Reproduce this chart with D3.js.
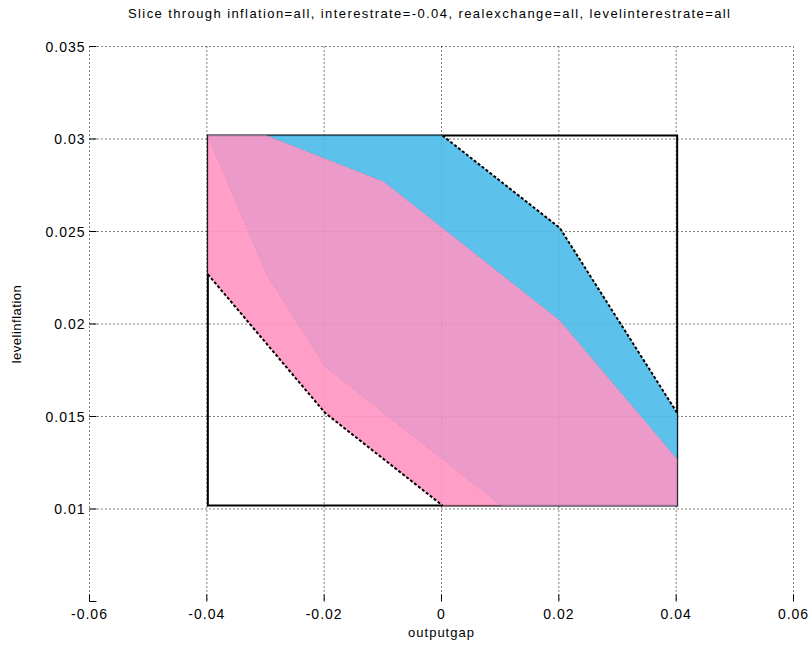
<!DOCTYPE html>
<html>
<head>
<meta charset="utf-8">
<script src="https://cdn.jsdelivr.net/npm/d3@7"></script>
<style>
  body { margin: 0; background: #fff; }
  text { font-family: "Liberation Sans", Arial, sans-serif; fill: #000; }
</style>
</head>
<body>
<script>
// chart values
let xTicks = [-0.06, -0.04, -0.02, 0, 0.02, 0.04, 0.06]
let yTicks = [0.01, 0.015, 0.02, 0.025, 0.03, 0.035]
let xLabels = ['-0.06', '-0.04', '-0.02', '0', '0.02', '0.04', '0.06']
let yLabels = ['0.01', '0.015', '0.02', '0.025', '0.03', '0.035']

// full slice box (outputgap x levelinflation)
let boxX = [-0.04, 0.04]
let boxY = [0.01, 0.03]

// blue region
let blueX = [-0.04, 0, 0.02, 0.04, 0.04, 0.01, -0.02, -0.03]
let blueY = [0.03, 0.03, 0.025, 0.015, 0.01, 0.01, 0.0175, 0.0225]

// pink region
let pinkX = [-0.04, -0.03, -0.01, 0.02, 0.04, 0.04, 0, -0.02, -0.04]
let pinkY = [0.03, 0.03, 0.0275, 0.02, 0.0125, 0.01, 0.01, 0.015, 0.0225]

// outer edges (dashed)
let blueEdgeX = [0, 0.02, 0.04]
let blueEdgeY = [0.03, 0.025, 0.015]
let pinkEdgeX = [-0.04, -0.02, 0]
let pinkEdgeY = [0.0225, 0.015, 0.01]

let titleText = 'Slice through inflation=all, interestrate=-0.04, realexchange=all, levelinterestrate=all'

let width = 811
let height = 648
let tickLen = 7
let patchOffset = [1, -3.5]

const svg = d3.select('body').append('svg').attr('width', width).attr('height', height)

const xScale = d3.scaleLinear().domain([-0.06, 0.06]).range([89.5, 793.5])
const yScale = d3.scaleLinear().domain([0.005, 0.035]).range([601.5, 46.5])

const toPoints = (xs, ys) => xs.map((v, i) => [xScale(v), yScale(ys[i])])
const line = d3.line()

// grid
svg.append('g')
  .selectAll('line')
  .data(xTicks)
  .enter()
  .append('line')
  .attr('x1', (d) => xScale(d)).attr('x2', (d) => xScale(d))
  .attr('y1', yScale(0.035)).attr('y2', yScale(0.005))
  .attr('stroke', '#000').attr('stroke-width', 1).attr('stroke-dasharray', '1,3')

svg.append('g')
  .selectAll('line')
  .data(yTicks)
  .enter()
  .append('line')
  .attr('y1', (d) => yScale(d)).attr('y2', (d) => yScale(d))
  .attr('x1', xScale(-0.06)).attr('x2', xScale(0.06))
  .attr('stroke', '#000').attr('stroke-width', 1).attr('stroke-dasharray', '1,3')

// patches
const patches = svg.append('g').attr('transform', `translate(${patchOffset[0]},${patchOffset[1]})`)

patches.append('rect')
  .attr('x', xScale(boxX[0]))
  .attr('y', yScale(boxY[1]))
  .attr('width', xScale(boxX[1]) - xScale(boxX[0]))
  .attr('height', yScale(boxY[0]) - yScale(boxY[1]))
  .attr('fill', 'none')
  .attr('stroke', '#000')
  .attr('stroke-width', 2)

patches.append('clipPath').attr('id', 'blueClip')
  .append('path').attr('d', line(toPoints(blueX, blueY)) + 'Z')

const fills = patches.append('g').attr('opacity', 0.9)

fills.append('path')
  .attr('d', line(toPoints(blueX, blueY)) + 'Z')
  .attr('fill', '#4BBCEB')

fills.append('path')
  .attr('d', line(toPoints(pinkX, pinkY)) + 'Z')
  .attr('fill', '#FF95C2')

fills.append('path')
  .attr('d', line(toPoints(pinkX, pinkY)) + 'Z')
  .attr('clip-path', 'url(#blueClip)')
  .attr('fill', '#EA90C5')

// faint inner borders where the two regions meet
patches.append('path')
  .attr('d', line(toPoints(pinkX.slice(1, 5), pinkY.slice(1, 5))))
  .attr('fill', 'none').attr('stroke', '#1a5a80').attr('stroke-opacity', 0.35)
  .attr('stroke-width', 1).attr('stroke-dasharray', '1,2')

patches.append('path')
  .attr('d', line(toPoints(blueX.slice(5).concat([blueX[0]]), blueY.slice(5).concat([blueY[0]]))))
  .attr('fill', 'none').attr('stroke', '#803060').attr('stroke-opacity', 0.2)
  .attr('stroke-width', 1).attr('stroke-dasharray', '1,2')

// dashed outer edges
patches.append('path')
  .attr('d', line(toPoints(blueEdgeX, blueEdgeY)))
  .attr('fill', 'none').attr('stroke', '#000').attr('stroke-width', 2).attr('stroke-dasharray', '3,2')

patches.append('path')
  .attr('d', line(toPoints(pinkEdgeX, pinkEdgeY)))
  .attr('fill', 'none').attr('stroke', '#000').attr('stroke-width', 2).attr('stroke-dasharray', '3,2')

// ticks (inward)
svg.append('g')
  .selectAll('line')
  .data(xTicks)
  .enter()
  .append('line')
  .attr('x1', (d) => xScale(d)).attr('x2', (d) => xScale(d))
  .attr('y1', yScale(0.005)).attr('y2', yScale(0.005) - tickLen)
  .attr('stroke', '#000').attr('stroke-width', 1)

svg.append('g')
  .selectAll('line')
  .data([0.005].concat(yTicks))
  .enter()
  .append('line')
  .attr('y1', (d) => yScale(d)).attr('y2', (d) => yScale(d))
  .attr('x1', xScale(-0.06)).attr('x2', xScale(-0.06) + tickLen)
  .attr('stroke', '#000').attr('stroke-width', 1)

// tick labels
svg.append('g')
  .selectAll('text')
  .data(xTicks)
  .enter()
  .append('text')
  .attr('x', (d) => xScale(d))
  .attr('y', yScale(0.005) + 17)
  .attr('text-anchor', 'middle')
  .attr('font-size', 14)
  .attr('letter-spacing', 1)
  .text((d, i) => xLabels[i])

svg.append('g')
  .selectAll('text')
  .data(yTicks)
  .enter()
  .append('text')
  .attr('x', xScale(-0.06) - 4)
  .attr('y', (d) => yScale(d) + 5)
  .attr('text-anchor', 'end')
  .attr('font-size', 14)
  .attr('letter-spacing', 1)
  .text((d, i) => yLabels[i])

// title + axis labels
svg.append('text')
  .attr('x', 429)
  .attr('y', 18)
  .attr('text-anchor', 'middle')
  .attr('font-size', 13)
  .attr('textLength', 602)
  .attr('lengthAdjust', 'spacing')
  .text(titleText)

svg.append('text')
  .attr('x', xScale(0))
  .attr('y', 637)
  .attr('text-anchor', 'middle')
  .attr('font-size', 13)
  .attr('letter-spacing', 1)
  .text('outputgap')

svg.append('text')
  .attr('transform', `translate(21,${yScale(0.02)}) rotate(-90)`)
  .attr('text-anchor', 'middle')
  .attr('font-size', 13)
  .attr('letter-spacing', 0.5)
  .text('levelinflation')
</script>
</body>
</html>
